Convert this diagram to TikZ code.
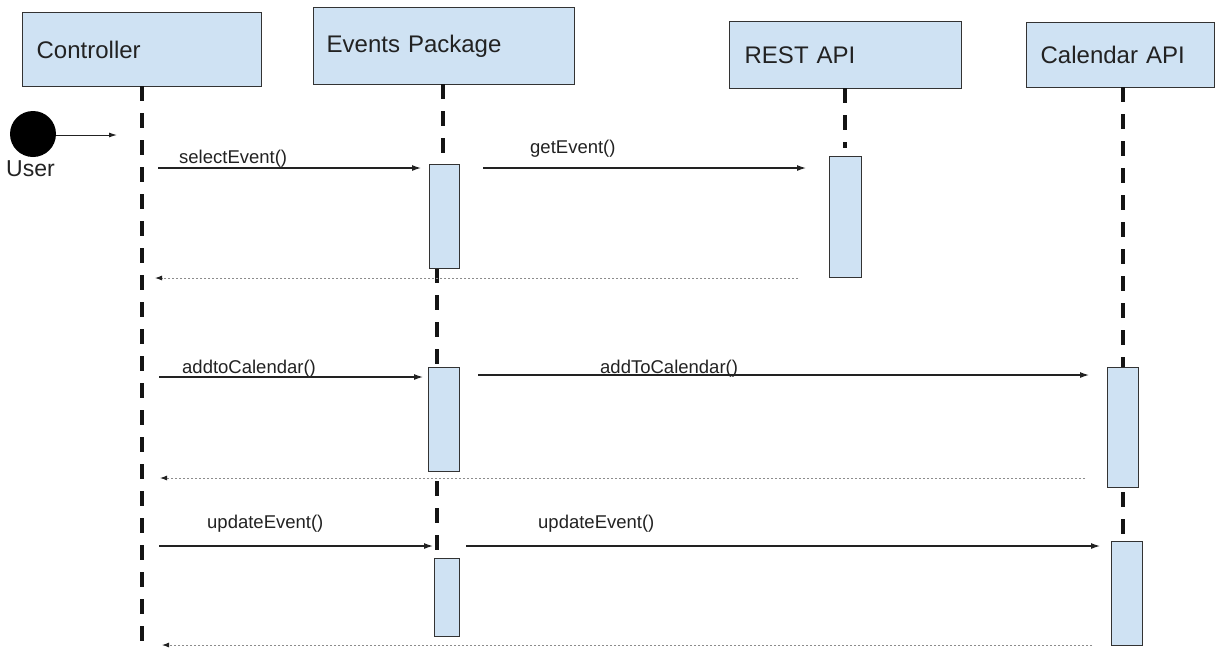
\documentclass[tikz,border=0pt]{standalone}
\usepackage{fontspec}
\setmainfont{Liberation Sans}
\usetikzlibrary{arrows.meta}
\definecolor{boxblue}{HTML}{CFE2F3}
\definecolor{edgegrey}{HTML}{333333}
\definecolor{retgrey}{HTML}{8C8C8C}
\definecolor{inkcol}{HTML}{222222}

\begin{document}
\begin{tikzpicture}[x=1pt,y=-1pt,
  actor/.style={draw=edgegrey, line width=1.3pt, fill=boxblue, anchor=north west,
    inner xsep=13pt, align=left, text=inkcol, font=\fontsize{24}{28}\selectfont},
  activation/.style={draw=edgegrey, line width=1.3pt, fill=boxblue, anchor=north west, inner sep=0pt},
  lifeline/.style={line width=4pt, dash pattern=on 15pt off 12pt, black!92},
  msg/.style={line width=1.2pt, draw=inkcol, -{Latex[length=9pt,width=6pt]}},
  reply/.style={line width=0.9pt, draw=retgrey, dash pattern=on 2pt off 2pt,
    -{Latex[length=7pt,width=5pt,color=inkcol]}},
  lbl/.style={anchor=base west, inner sep=0pt, text=inkcol, font=\fontsize{18.5}{22}\selectfont}
]
\useasboundingbox (0,0) rectangle (1217,651);
\fill[white] (0,0) rectangle (1217,651);

% participant heads
\node[actor, minimum width=239pt, minimum height=74pt, text width=211pt] (ctrl) at (22,12) {Controller};
\node[actor, minimum width=261pt, minimum height=77pt, text width=235pt, inner xsep=12pt] (ep) at (313,7) {Events Package};
\node[actor, minimum width=232pt, minimum height=67pt, text width=202pt, inner xsep=14pt] (rest) at (729,21) {REST API};
\node[actor, minimum width=188pt, minimum height=65pt, text width=160pt] (cal) at (1026,22) {Calendar API};

% lifeline end points
\coordinate (ctrlA) at (142,86);   \coordinate (ctrlB) at (142,651);
\coordinate (epA) at (443,84);     \coordinate (epB) at (443,164);
\coordinate (epC) at (437,268);    \coordinate (epD) at (437,367);
\coordinate (epE) at (437,471);    \coordinate (epF) at (437,557);
\coordinate (restA) at (845,88);   \coordinate (restB) at (845,148);
\coordinate (calA) at (1123,87);   \coordinate (calB) at (1123,645);

% lifelines
\draw[lifeline] (ctrlA) -- (ctrlB);
\draw[lifeline] (epA) -- (epB);
\draw[lifeline] (epC) -- (epD);
\draw[lifeline, dash phase=-10pt] (epE) -- (epF);
\draw[lifeline] (restA) -- (restB);
\draw[lifeline] (calA) -- (calB);

% activation bars
\node[activation, minimum width=30pt, minimum height=104pt] (ep1) at (429,164) {};
\node[activation, minimum width=32pt, minimum height=121pt] (rest1) at (829,156) {};
\node[activation, minimum width=31pt, minimum height=104pt] (ep2) at (428,367) {};
\node[activation, minimum width=31pt, minimum height=120pt] (cal1) at (1107,367) {};
\node[activation, minimum width=25pt, minimum height=78pt] (ep3) at (434,558) {};
\node[activation, minimum width=31pt, minimum height=104pt] (cal2) at (1111,541) {};

% the user
\node[circle, fill=black, minimum size=46pt, inner sep=0pt] (user) at (33,134) {};
\node[anchor=west, inner sep=0pt, text=inkcol, font=\fontsize{23}{26}\selectfont] (userlbl) at (6,169) {User};
\coordinate (userTo) at (117,135);
\draw[msg, line width=1pt, -{Latex[length=8pt,width=5pt]}] (user.east |- userTo) -- (userTo);

% message end points
\coordinate (m1s) at (158,168);  \coordinate (m1e) at (421,168);
\coordinate (m2s) at (483,168);  \coordinate (m2e) at (806,168);
\coordinate (r1s) at (798,278);  \coordinate (r1e) at (155,278);
\coordinate (m3s) at (159,377);  \coordinate (m3e) at (423,377);
\coordinate (m4s) at (478,375);  \coordinate (m4e) at (1089,375);
\coordinate (r2s) at (1085,478); \coordinate (r2e) at (160,478);
\coordinate (m5s) at (159,546);  \coordinate (m5e) at (433,546);
\coordinate (m6s) at (466,546);  \coordinate (m6e) at (1100,546);
\coordinate (r3s) at (1092,645); \coordinate (r3e) at (162,645);

% calls
\draw[msg] (m1s) -- (m1e);
\draw[msg] (m2s) -- (m2e);
\draw[msg] (m3s) -- (m3e);
\draw[msg] (m4s) -- (m4e);
\draw[msg] (m5s) -- (m5e);
\draw[msg] (m6s) -- (m6e);

% returns
\draw[reply] (r1s) -- (r1e);
\draw[reply] (r2s) -- (r2e);
\draw[reply] (r3s) -- (r3e);

% message labels
\node[lbl] (l1) at (179,163) {selectEvent()};
\node[lbl] (l2) at (530,153) {getEvent()};
\node[lbl] (l3) at (182,373) {addtoCalendar()};
\node[lbl] (l4) at (600,373) {addToCalendar()};
\node[lbl] (l5) at (207,528) {updateEvent()};
\node[lbl] (l6) at (538,528) {updateEvent()};
\end{tikzpicture}
\end{document}
